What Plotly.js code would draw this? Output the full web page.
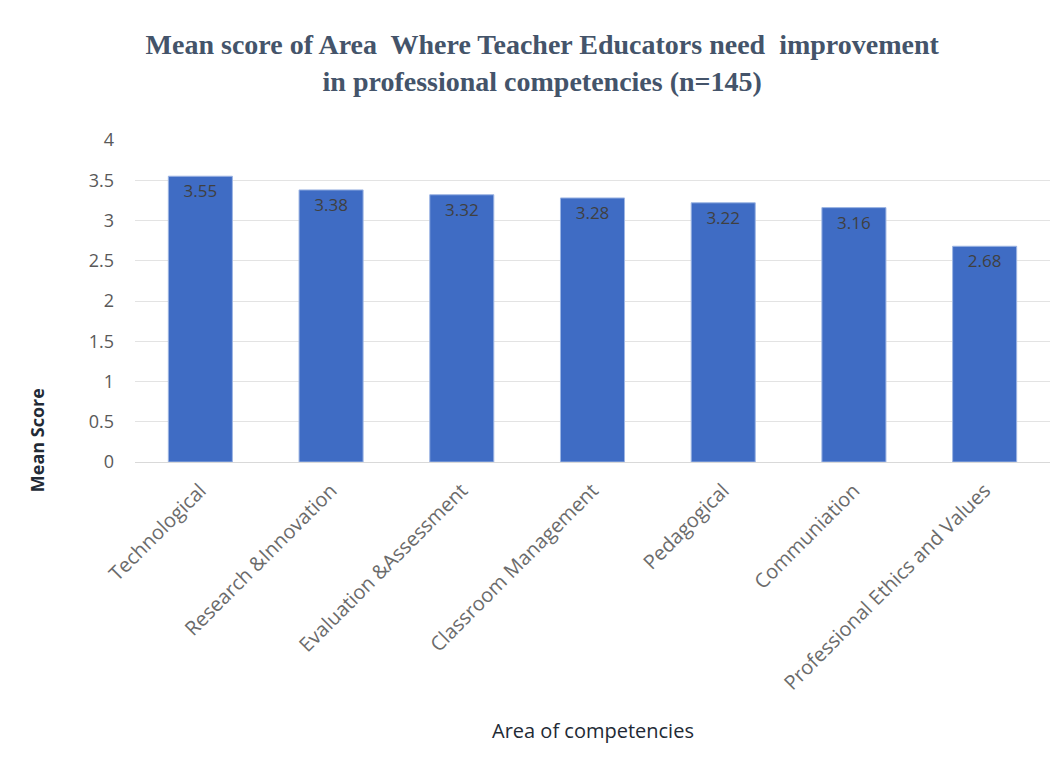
<!DOCTYPE html>
<html><head><meta charset="utf-8">
<script src="https://cdn.plot.ly/plotly-3.0.1.min.js"></script>
<style>html,body{margin:0;padding:0;background:#fff}#chart{width:1059px;height:774px}</style>
</head><body><div id="chart"></div>
<script>
const categories = ["Technological","Research &Innovation","Evaluation &Assessment","Classroom Management","Pedagogical","Communiation","Professional Ethics and Values"];
const meanScores = [3.55,3.38,3.32,3.28,3.22,3.16,2.68];
const yTicks = [0,0.5,1,1.5,2,2.5,3,3.5,4];

const trace = {
  type:'bar', x:categories, y:meanScores,
  text: meanScores.map(v=>v.toFixed(2)),
  textposition:'inside', insidetextanchor:'end',
  textfont:{family:'Open Sans, sans-serif', size:17, color:'#404040'},
  marker:{color:'#3f6cc4', line:{color:'#9db5e3', width:1}},
  hoverinfo:'none'
};
const layout = {
  width:1059, height:774,
  margin:{l:135, r:9, t:140, b:312},
  paper_bgcolor:'#fff', plot_bgcolor:'#fff',
  bargap:0.51,
  showlegend:false,
  title:{text:'Mean score of Area  Where Teacher Educators need  improvement<br>in professional competencies (n=145)',
    font:{family:'Liberation Serif, serif', size:28, color:'#44546a', weight:'bold'},
    x:0.512, xanchor:'center', y:0.93, yanchor:'top'},
  xaxis:{tickangle:-45, tickfont:{family:'Open Sans, sans-serif', size:20, color:'#6b6b6b'},
    showline:true, linecolor:'#d9d9d9', ticks:'', automargin:false, ticklabelstandoff:8},
  yaxis:{range:[0,4], tickvals:yTicks, ticktext:yTicks.map(String), showgrid:true, gridcolor:'#e3e3e3',
    zeroline:false, tickfont:{family:'Open Sans, sans-serif', size:18, color:'#595959'}, ticks:'', ticklen:0,
    automargin:false, ticklabelstandoff:20},
  annotations:[
    {text:'<b>Mean Score</b>', xref:'paper', yref:'paper', x:-0.107, y:0.068, textangle:-90,
      showarrow:false, font:{family:'Open Sans, sans-serif', size:18, color:'#222a35'}, xanchor:'center', yanchor:'middle'},
    {text:'Area of competencies', xref:'paper', yref:'paper', x:0.5, y:-0.835, showarrow:false,
      font:{family:'Open Sans, sans-serif', size:20, color:'#222a35'}, xanchor:'center', yanchor:'middle'}
  ]
};
Plotly.newPlot('chart',[trace],layout,{displayModeBar:false, staticPlot:true});
</script></body></html>
